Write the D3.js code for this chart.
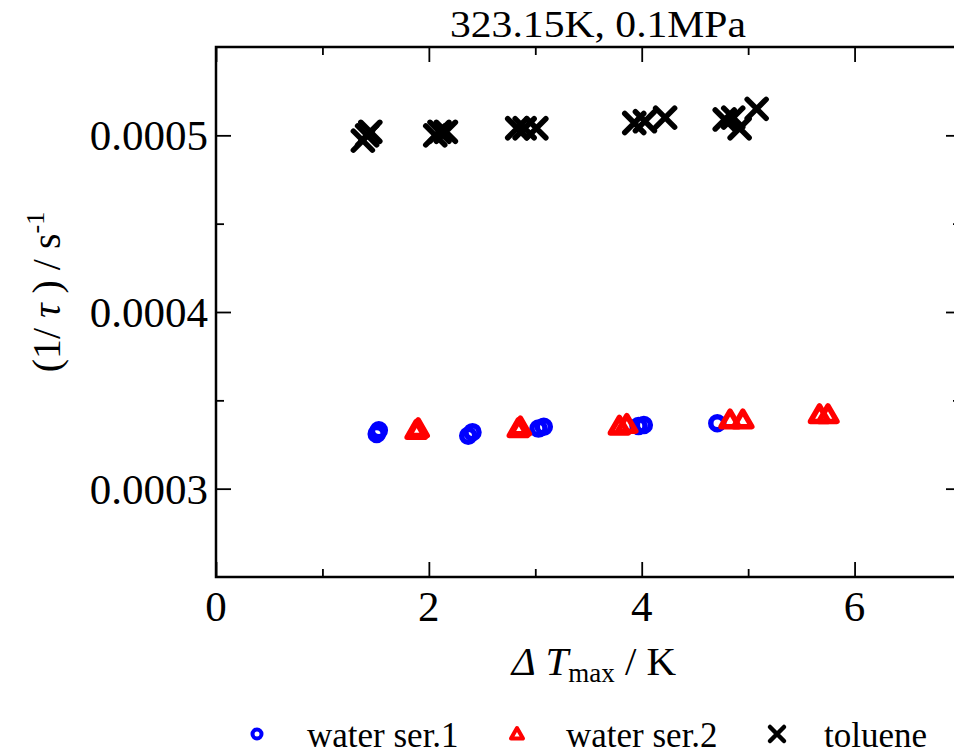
<!DOCTYPE html>
<html>
<head>
<meta charset="utf-8">
<script src="https://cdn.jsdelivr.net/npm/d3@7/dist/d3.min.js"></script>
<style>
  html, body { margin: 0; padding: 0; background: #fff; }
  svg { display: block; font-family: "Liberation Serif", "Times New Roman", serif; }
</style>
</head>
<body>
<svg id="chart" width="954" height="756"></svg>
<script>
// Relaxation rate (1/tau) against the maximum temperature difference
const waterSer1X = [1.51, 1.53, 2.37, 2.41, 3.03, 3.08, 3.97, 4.02, 4.71];
const waterSer1Y = [0.000331, 0.000333, 0.000330, 0.000332, 0.000334, 0.000335, 0.0003355, 0.000336, 0.000337];

const waterSer2X = [1.88, 1.90, 2.84, 2.86, 3.79, 3.86, 4.83, 4.95, 5.67, 5.75];
const waterSer2Y = [0.000332, 0.000333, 0.000333, 0.000334, 0.0003345, 0.0003355, 0.000338, 0.000338, 0.000341, 0.000341];

const tolueneX = [1.38, 1.42, 1.45, 2.06, 2.10, 2.16, 2.83, 2.90, 3.01, 3.93, 4.03, 4.22, 4.78, 4.86, 4.92, 5.08];
const tolueneY = [0.000497, 0.000500, 0.000502, 0.000500, 0.000502, 0.000502, 0.000504, 0.000504, 0.000504, 0.000507, 0.000508, 0.000510, 0.000509, 0.000510, 0.000504, 0.000515];

const xTicks = [0, 2, 4, 6];
const xMinorTicks = [1, 3, 5];
const yTicks = [0.0003, 0.0004, 0.0005];
const yMinorTicks = [0.00035, 0.00045];
const yTickLabels = ["0.0003", "0.0004", "0.0005"];

const chartTitle = "323.15K, 0.1MPa";
const seriesNames = ["water ser.1", "water ser.2", "toluene"];

const svg = d3.select("#chart");
const m = { left: 216, top: 47, bottom: 577, right: 961 };

const x = d3.scaleLinear().domain([0, 7]).range([m.left, m.right]);
const y = d3.scaleLinear().domain([0.00025, 0.00055]).range([m.bottom, m.top]);

const MAJ = 15, MIN = 8;
const axisColor = "#000";
const frameW = 2.5;

// Axes with inward ticks on all four sides
function styleAxis(g) {
  g.select(".domain").remove();
  g.selectAll(".tick line").attr("stroke", axisColor).attr("stroke-width", 1.8);
  g.selectAll("text").remove();
}
svg.append("g").attr("transform", `translate(0,${m.bottom})`)
  .call(d3.axisBottom(x).tickValues(xTicks).tickSize(-MAJ)).call(styleAxis);
svg.append("g").attr("transform", `translate(0,${m.bottom})`)
  .call(d3.axisBottom(x).tickValues(xMinorTicks).tickSize(-MIN)).call(styleAxis);
svg.append("g").attr("transform", `translate(0,${m.top})`)
  .call(d3.axisTop(x).tickValues(xTicks).tickSize(-MAJ)).call(styleAxis);
svg.append("g").attr("transform", `translate(0,${m.top})`)
  .call(d3.axisTop(x).tickValues(xMinorTicks).tickSize(-MIN)).call(styleAxis);
svg.append("g").attr("transform", `translate(${m.left},0)`)
  .call(d3.axisLeft(y).tickValues(yTicks).tickSize(-MAJ)).call(styleAxis);
svg.append("g").attr("transform", `translate(${m.left},0)`)
  .call(d3.axisLeft(y).tickValues(yMinorTicks).tickSize(-MIN)).call(styleAxis);
svg.append("g").attr("transform", `translate(${m.right},0)`)
  .call(d3.axisRight(y).tickValues(yTicks).tickSize(-MAJ)).call(styleAxis);
svg.append("g").attr("transform", `translate(${m.right},0)`)
  .call(d3.axisRight(y).tickValues(yMinorTicks).tickSize(-MIN)).call(styleAxis);

// Frame
svg.append("rect")
  .attr("x", m.left).attr("y", m.top)
  .attr("width", m.right - m.left).attr("height", m.bottom - m.top)
  .attr("fill", "none").attr("stroke", axisColor).attr("stroke-width", frameW);

// Tick labels
svg.append("g").selectAll("text").data(xTicks).join("text")
  .attr("x", d => x(d)).attr("y", 621)
  .attr("text-anchor", "middle").attr("font-size", 43)
  .text(d => d);
svg.append("g").selectAll("text").data(yTicks).join("text")
  .attr("x", 208).attr("y", d => y(d) + 15)
  .attr("text-anchor", "end").attr("font-size", 43)
  .text((d, i) => yTickLabels[i]);

// Title
svg.append("text").attr("x", 598).attr("y", 37)
  .attr("text-anchor", "middle").attr("font-size", 38)
  .attr("textLength", 296).attr("lengthAdjust", "spacingAndGlyphs")
  .text(chartTitle);

// Axis titles
const xl = svg.append("text").attr("x", 594).attr("y", 675)
  .attr("text-anchor", "middle").attr("font-size", 41);
xl.append("tspan").attr("font-style", "italic").text("Δ T");
xl.append("tspan").attr("font-size", 27).attr("dy", 7).text("max");
xl.append("tspan").attr("dy", -7).text(" / K");

const yl = svg.append("text")
  .attr("transform", "translate(60,292) rotate(-90)")
  .attr("text-anchor", "middle").attr("font-size", 40);
yl.append("tspan").text("(1/ ");
yl.append("tspan").attr("font-style", "italic").text("τ");
yl.append("tspan").text(" ) / s");
yl.append("tspan").attr("font-size", 26).attr("dy", -16).text("-1");

// Marker shapes
const triPath = s => {
  const h = s * Math.sqrt(3) / 2;
  return `M0,${-h * 2 / 3}L${s / 2},${h / 3}L${-s / 2},${h / 3}Z`;
};
const crossPath = s => `M${-s},${-s}L${s},${s}M${-s},${s}L${s},${-s}`;

const plot = svg.append("g");

// water ser.1: open blue circles
plot.append("g").selectAll("circle").data(waterSer1X).join("circle")
  .attr("cx", d => x(d)).attr("cy", (d, i) => y(waterSer1Y[i]))
  .attr("r", 6.5).attr("fill", "none").attr("stroke", "#0000ff").attr("stroke-width", 5.5);

// water ser.2: open red triangles
plot.append("g").selectAll("path").data(waterSer2X).join("path")
  .attr("transform", (d, i) => `translate(${x(d)},${y(waterSer2Y[i])})`)
  .attr("d", triPath(18)).attr("fill", "none").attr("stroke", "#ff0000")
  .attr("stroke-width", 5.5).attr("stroke-linejoin", "round");

// toluene: black crosses
plot.append("g").selectAll("path").data(tolueneX).join("path")
  .attr("transform", (d, i) => `translate(${x(d)},${y(tolueneY[i])})`)
  .attr("d", crossPath(9.5)).attr("fill", "none").attr("stroke", "#000")
  .attr("stroke-width", 5.5).attr("stroke-linecap", "round");

// Legend
const legend = svg.append("g");
const legY = 734;
const legItems = [
  { mx: 257, tx: 307, kind: "circle" },
  { mx: 517, tx: 566, kind: "tri" },
  { mx: 777, tx: 824, kind: "cross" }
];
legItems.forEach((it, i) => {
  if (it.kind === "circle") {
    legend.append("circle").attr("cx", it.mx).attr("cy", legY).attr("r", 4.5)
      .attr("fill", "none").attr("stroke", "#0000ff").attr("stroke-width", 4);
  } else if (it.kind === "tri") {
    legend.append("path").attr("transform", `translate(${it.mx},${legY + 1})`)
      .attr("d", triPath(12)).attr("fill", "none").attr("stroke", "#ff0000")
      .attr("stroke-width", 4).attr("stroke-linejoin", "round");
  } else {
    legend.append("path").attr("transform", `translate(${it.mx},${legY})`)
      .attr("d", crossPath(7)).attr("fill", "none").attr("stroke", "#000")
      .attr("stroke-width", 4.5).attr("stroke-linecap", "round");
  }
  legend.append("text").attr("x", it.tx).attr("y", 747)
    .attr("font-size", 35).text(seriesNames[i]);
});
</script>
</body>
</html>
